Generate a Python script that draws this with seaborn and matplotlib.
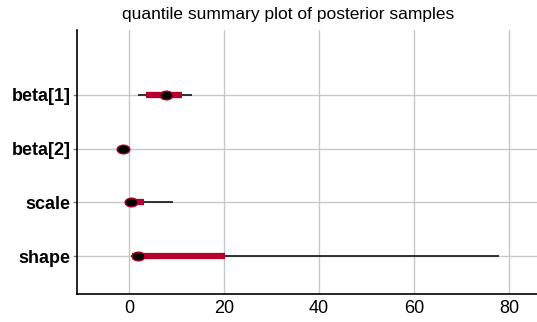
import numpy as np
import pandas as pd
import matplotlib
matplotlib.use("Agg")
import matplotlib.pyplot as plt
from matplotlib.path import Path
from matplotlib.transforms import Affine2D
import seaborn as sns

# Posterior quantile summaries (2.5%, 25%, 50%, 75%, 97.5%)
params = ["beta[1]", "beta[2]", "scale", "shape"]
q025 = [1.8, -1.9, -0.3, 0.5]
q25 = [3.5, -1.5, 0.1, 0.6]
q50 = [7.7, -1.2, 0.35, 1.8]
q75 = [11.2, -0.9, 3.2, 20.3]
q975 = [13.2, -0.5, 9.2, 78.0]
xticks = [0, 20, 40, 60, 80]

df = pd.DataFrame({"param": params, "lo": q025, "q1": q25, "med": q50,
                   "q3": q75, "hi": q975})

sns.set_theme(style="white")
plt.rcParams["font.family"] = ["Liberation Sans", "DejaVu Sans"]
plt.rcParams["text.color"] = "black"

fig = plt.figure(figsize=(5.37, 3.22), dpi=100)
ax = fig.add_axes([0.144, 0.086, 0.856, 0.821])

red = "#b8002c"
ypos = np.arange(len(params))

# reference grid
for yv in ypos:
    ax.axhline(yv, color="#c8c8c8", lw=1.0, zorder=0)
for xv in xticks:
    ax.axvline(xv, color="#c8c8c8", lw=1.0, zorder=0)

# 95% and 50% intervals
ax.hlines(ypos, df["lo"], df["hi"], color="#222222", lw=1.3, zorder=2)
ax.hlines(ypos, df["q1"], df["q3"], color=red, lw=4.5, zorder=3)

# medians as flattened dots
ellipse = Path.unit_circle().transformed(Affine2D().scale(1.45, 1.0))
sns.scatterplot(data=df, x="med", y=ypos, ax=ax, marker=ellipse, s=85,
                color="black", edgecolor=red, linewidth=0.9, zorder=4,
                legend=False)

ax.set_xlim(-10.9, 85.9)
ax.set_ylim(3.71, -1.21)
ax.set_xticks(xticks)
ax.set_yticks(ypos)
ax.set_yticklabels(params, fontweight="bold")
ax.set_xlabel("")
ax.set_ylabel("")

for s in ["top", "right"]:
    ax.spines[s].set_visible(False)
for s in ["left", "bottom"]:
    ax.spines[s].set_color("black")
    ax.spines[s].set_linewidth(1.2)

ax.tick_params(axis="x", length=0, pad=4, labelsize=13, colors="black")
ax.tick_params(axis="y", length=3, width=1, color="#888888", pad=2,
               labelsize=13, labelcolor="black", left=True)

fig.text(288 / 537, 1 - 15 / 322, "quantile summary plot of posterior samples",
         ha="center", va="center", fontsize=12.5, color="black")

fig.savefig("out.png", dpi=100)
